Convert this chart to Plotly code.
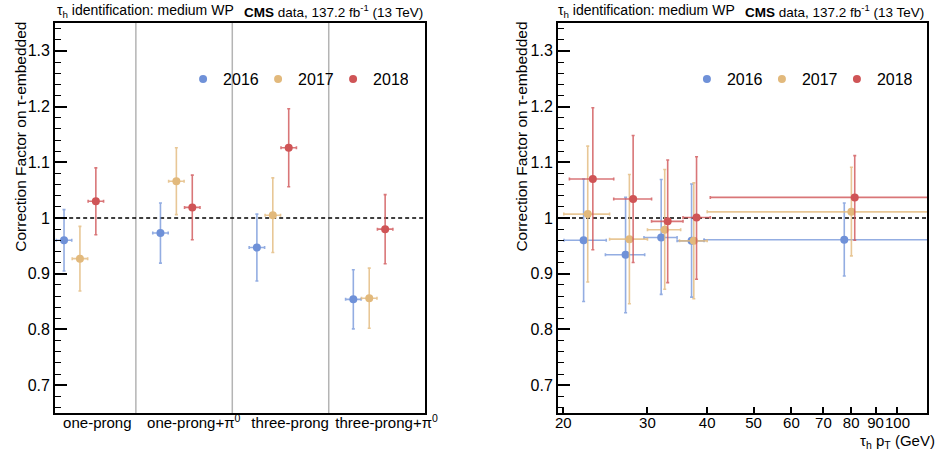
import math
import plotly.graph_objects as go

# ---------------- data ----------------
years = ["2016", "2017", "2018"]
colors = {"2016": "#6f91d8", "2017": "#e2b97c", "2018": "#cf5456"}
bar_colors = {"2016": "rgba(111,145,216,0.75)", "2017": "rgba(226,185,124,0.8)", "2018": "rgba(207,84,86,0.8)"}

# Left panel: decay modes
decay_modes = ["one-prong", "one-prong+π<sup>0</sup>", "three-prong", "three-prong+π<sup>0</sup>"]
dm_sf = {
    "2016": [0.960, 0.973, 0.947, 0.854],
    "2017": [0.927, 1.066, 1.005, 0.856],
    "2018": [1.030, 1.019, 1.126, 0.980],
}
dm_err = {
    "2016": [0.055, 0.054, 0.060, 0.053],
    "2017": [0.058, 0.060, 0.067, 0.054],
    "2018": [0.060, 0.058, 0.070, 0.062],
}
dm_offset = {"2016": -0.245, "2017": -0.08, "2018": 0.085}
dm_xerr = 0.08
label_shift = 0.1

# Right panel: pT bins
pt_x = {
    "2016": [22.06, 27.0, 32.05, 37.1, 77.4],
    "2017": [22.5, 27.5, 32.6, 37.5, 80.1],
    "2018": [23.06, 28.0, 33.07, 38.0, 81.4],
}
pt_xlo = {
    "2016": [20.07, 24.5, 29.5, 34.6, 39.4],
    "2017": [20.05, 25.0, 30.0, 35.0, 40.0],
    "2018": [20.6, 25.5, 30.6, 35.6, 40.6],
}
pt_xhi = {
    "2016": [24.6, 29.6, 34.6, 39.4, 200.0],
    "2017": [25.0, 30.0, 35.2, 40.0, 200.0],
    "2018": [25.5, 30.6, 35.6, 40.6, 200.0],
}
pt_sf = {
    "2016": [0.960, 0.934, 0.965, 0.959, 0.961],
    "2017": [1.007, 0.962, 0.979, 0.959, 1.011],
    "2018": [1.070, 1.034, 0.994, 1.001, 1.037],
}
pt_sflo = {
    "2016": [0.850, 0.830, 0.863, 0.858, 0.896],
    "2017": [0.885, 0.846, 0.872, 0.855, 0.932],
    "2018": [0.943, 0.920, 0.884, 0.890, 0.960],
}
pt_sfhi = {
    "2016": [1.070, 1.037, 1.069, 1.061, 1.027],
    "2017": [1.129, 1.078, 1.087, 1.063, 1.091],
    "2018": [1.198, 1.148, 1.104, 1.110, 1.112],
}

y_ticks = [0.7, 0.8, 0.9, 1.0, 1.1, 1.2, 1.3]
y_ticktext = ["0.7", "0.8", "0.9", "1", "1.1", "1.2", "1.3"]
pt_ticks = [20, 30, 40, 50, 60, 70, 80, 90, 100]
reference_line = 1.0

W, H = 941, 454
FONT = "Liberation Sans, Arial, Helvetica, sans-serif"

fig = go.Figure()

for yr in years:
    xs = [i + dm_offset[yr] for i in range(len(decay_modes))]
    fig.add_trace(go.Scatter(
        x=xs, y=dm_sf[yr], mode="markers", name=yr, legend="legend",
        marker=dict(color=colors[yr], size=8),
        error_y=dict(type="data", array=dm_err[yr], color=bar_colors[yr], thickness=1.6, width=1.5),
        error_x=dict(type="data", array=[dm_xerr] * len(xs), color=bar_colors[yr], thickness=1.6, width=1.5),
        xaxis="x", yaxis="y",
    ))

for yr in years:
    x = pt_x[yr]
    y = pt_sf[yr]
    fig.add_trace(go.Scatter(
        x=x, y=y, mode="markers", name=yr, legend="legend2",
        marker=dict(color=colors[yr], size=8),
        error_y=dict(type="data", symmetric=False,
                     array=[h - v for h, v in zip(pt_sfhi[yr], y)],
                     arrayminus=[v - l for l, v in zip(pt_sflo[yr], y)],
                     color=bar_colors[yr], thickness=1.6, width=1.5),
        error_x=dict(type="data", symmetric=False,
                     array=[h - v for h, v in zip(pt_xhi[yr], x)],
                     arrayminus=[v - l for l, v in zip(pt_xlo[yr], x)],
                     color=bar_colors[yr], thickness=1.6, width=1.5),
        xaxis="x2", yaxis="y2",
    ))

yd = [(H - 413) / H, (H - 23) / H]
xd1 = [53 / W, 429 / W]
xd2 = [564 / W, 939 / W]

common_y = dict(
    range=[0.65, 1.35], domain=yd, tickmode="array", tickvals=y_ticks, ticktext=y_ticktext,
    ticks="inside", ticklen=12, tickwidth=1.5, tickcolor="black",
    minor=dict(ticks="inside", tick0=0.7, dtick=0.02, ticklen=6, tickwidth=1.2, tickcolor="black"),
    showline=True, linecolor="black", linewidth=2, mirror=True,
    showgrid=False, zeroline=False, tickfont=dict(size=16, color="black", family=FONT),
)

fig.update_layout(
    width=W, height=H, autosize=False,
    margin=dict(l=0, r=0, t=0, b=0),
    paper_bgcolor="white", plot_bgcolor="white",
    font=dict(family=FONT, color="black"),
    xaxis=dict(domain=xd1, range=[-0.337, len(decay_modes) - 0.5],
               tickmode="array", tickvals=[i + label_shift for i in range(len(decay_modes))],
               ticktext=decay_modes, ticks="", showline=True, linecolor="black", linewidth=2,
               mirror=True, showgrid=False, zeroline=False, tickangle=0, ticklabelstandoff=-5,
               tickfont=dict(size=15, color="black", family=FONT), anchor="y"),
    yaxis=dict(anchor="x", **common_y),
    xaxis2=dict(domain=xd2, type="log", range=[math.log10(19.5), math.log10(115.3)],
                tickmode="array", tickvals=pt_ticks, ticktext=[str(t) for t in pt_ticks],
                ticks="inside", ticklen=6, tickwidth=1.5, tickcolor="black", tickangle=0,
                ticklabelstandoff=-5,
                showline=True, linecolor="black", linewidth=2, mirror=True,
                showgrid=False, zeroline=False,
                tickfont=dict(size=15, color="black", family=FONT), anchor="y2"),
    yaxis2=dict(anchor="x2", **common_y),
    legend=dict(orientation="h", x=183 / W, y=(H - 79) / H, xanchor="left", yanchor="middle",
                font=dict(size=16, color="black"), bgcolor="rgba(0,0,0,0)",
                entrywidth=30, entrywidthmode="pixels", itemwidth=30),
    legend2=dict(orientation="h", x=695 / W, y=(H - 79) / H, xanchor="left", yanchor="middle",
                 font=dict(size=16, color="black"), bgcolor="rgba(0,0,0,0)",
                 entrywidth=30, entrywidthmode="pixels", itemwidth=30),
    showlegend=True,
)

# separators between decay-mode bins
for i in range(len(decay_modes) - 1):
    fig.add_shape(type="line", xref="x", yref="y domain", x0=i + 0.5, x1=i + 0.5, y0=0, y1=1,
                  line=dict(color="#b4b4b4", width=1.5), layer="below")

# reference lines at 1
for xr, yr_ in (("x domain", "y"), ("x2 domain", "y2")):
    fig.add_shape(type="line", xref=xr, yref=yr_, x0=0, x1=1, y0=reference_line, y1=reference_line,
                  line=dict(color="black", width=1.4, dash="4px,3px"), layer="below")

header_y = (H - 11) / H
for left_px, right_px in ((53, 429), (562, 938)):
    fig.add_annotation(text="τ<sub>h</sub> identification: medium WP", xref="paper", yref="paper",
                       x=left_px / W, y=header_y, xanchor="left", yanchor="middle",
                       showarrow=False, font=dict(size=14, color="black"))
    fig.add_annotation(text="<b>CMS</b> data, 137.2 fb<sup>-1</sup> (13 TeV)", xref="paper", yref="paper",
                       x=right_px / W, y=header_y, xanchor="right", yanchor="middle",
                       showarrow=False, font=dict(size=13.5, color="black"))

for xpx in (17, 526):
    fig.add_annotation(text="Correction Factor on τ-embedded", xref="paper", yref="paper",
                       x=xpx / W, y=(H - 20) / H, xanchor="center", yanchor="top", textangle=-90,
                       showarrow=False, font=dict(size=15.5, color="black"))

fig.add_annotation(text="τ<sub>h</sub> p<sub>T</sub> (GeV)", xref="paper", yref="paper",
                   x=949 / W, y=(H - 441) / H, xanchor="right", yanchor="middle",
                   showarrow=False, font=dict(size=15, color="black"))

fig.write_html("out.html")
